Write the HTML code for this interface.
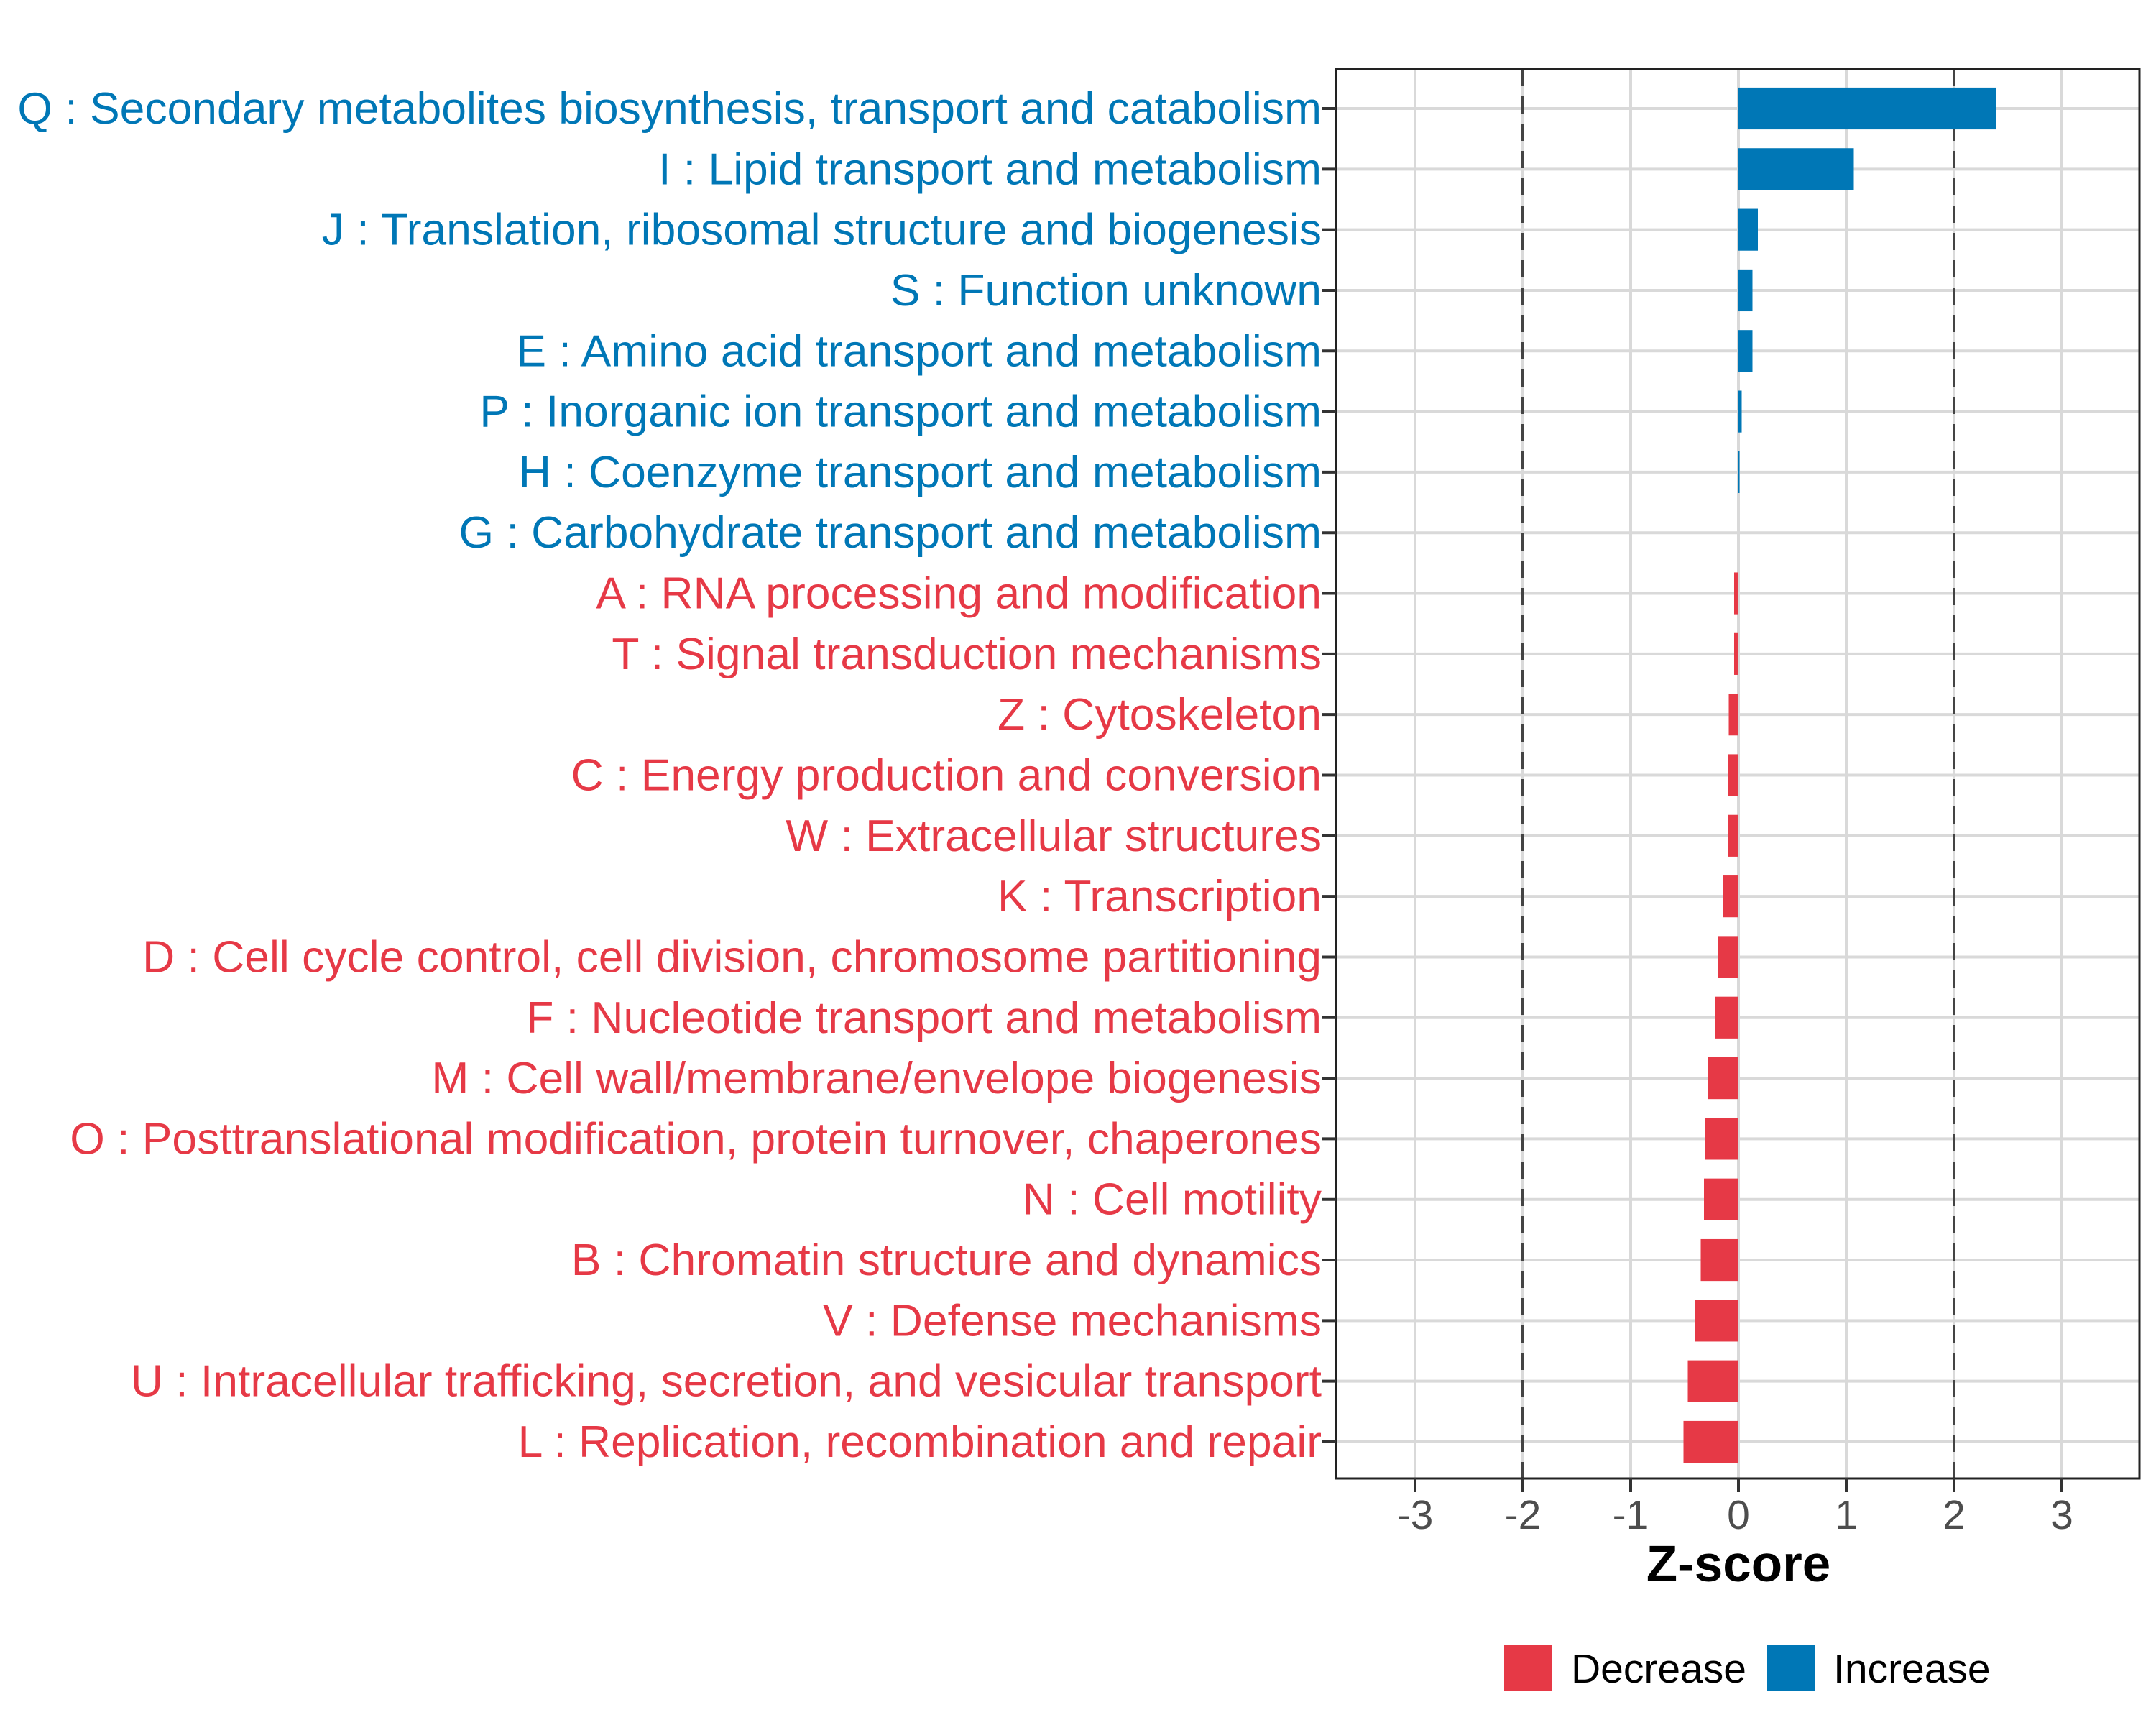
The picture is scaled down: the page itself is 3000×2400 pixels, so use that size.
<!DOCTYPE html>
<html><head><meta charset="utf-8"><style>
html,body{margin:0;padding:0;background:#fff;}
svg{display:block;font-family:"Liberation Sans",Arial,sans-serif;}
</style></head><body>
<svg id="chart" width="3000" height="2400" viewBox="0 0 3000 2400">
<g id="grid"></g>
<g id="bars"></g>
<rect x="1859" y="96" width="1118" height="1961" fill="none" stroke="#222" stroke-width="3"/>
<g id="ylabels"></g>
<g id="xaxis"></g>
<text x="2419" y="2200" text-anchor="middle" font-size="71" font-weight="bold" fill="#000">Z-score</text>
<g>
<rect x="2093" y="2288" width="66" height="64" fill="#e63946"/>
<text x="2186" y="2341" font-size="57" fill="#000">Decrease</text>
<rect x="2459" y="2288" width="66" height="64" fill="#0077b6"/>
<text x="2551" y="2341" font-size="57" fill="#000">Increase</text>
</g>
</svg>
<script>
const categories = ["Q : Secondary metabolites biosynthesis, transport and catabolism","I : Lipid transport and metabolism","J : Translation, ribosomal structure and biogenesis","S : Function unknown","E : Amino acid transport and metabolism","P : Inorganic ion transport and metabolism","H : Coenzyme transport and metabolism","G : Carbohydrate transport and metabolism","A : RNA processing and modification","T : Signal transduction mechanisms","Z : Cytoskeleton","C : Energy production and conversion","W : Extracellular structures","K : Transcription","D : Cell cycle control, cell division, chromosome partitioning","F : Nucleotide transport and metabolism","M : Cell wall/membrane/envelope biogenesis","O : Posttranslational modification, protein turnover, chaperones","N : Cell motility","B : Chromatin structure and dynamics","V : Defense mechanisms","U : Intracellular trafficking, secretion, and vesicular transport","L : Replication, recombination and repair"];
const zscores = [2.39,1.07,0.18,0.13,0.13,0.03,0.01,0.0,-0.04,-0.04,-0.09,-0.10,-0.10,-0.14,-0.19,-0.22,-0.28,-0.31,-0.32,-0.35,-0.40,-0.47,-0.51];
const groups = ["inc","inc","inc","inc","inc","inc","inc","inc","dec","dec","dec","dec","dec","dec","dec","dec","dec","dec","dec","dec","dec","dec","dec"];
const xTicks = [-3,-2,-1,0,1,2,3];
const xTickLabels = ["-3","-2","-1","0","1","2","3"];
const thresholds = [-2,2];

const NS="http://www.w3.org/2000/svg";
const PL=1859, PR=2977, PT=96, PB=2057;
const X0=2419, UNIT=150, Y0=151, STEP=(2006-151)/22;
const xs = v => X0 + v*UNIT;
const ys = i => Y0 + i*STEP;
const colors={inc:"#0077b6",dec:"#e63946"};
function mk(tag, attrs, parent){const e=document.createElementNS(NS,tag);for(const k in attrs)e.setAttribute(k,attrs[k]);parent.appendChild(e);return e;}
const grid=document.getElementById('grid'), bars=document.getElementById('bars'), yl=document.getElementById('ylabels'), xa=document.getElementById('xaxis');

xTicks.forEach((t,i)=>{
  const l=mk('line',{x1:xs(t),x2:xs(t),y1:PT,y2:PB,stroke:'#d9d9d9','stroke-width':4},grid);
  
  
  const tk=mk('line',{x1:xs(t),x2:xs(t),y1:PB,y2:PB+19,stroke:'#333','stroke-width':4},xa);
  
  
  const tx=mk('text',{x:xs(t),y:2127,'text-anchor':'middle','font-size':57,fill:'#4d4d4d'},xa);
  tx.textContent=xTickLabels[i];
  
  
});
categories.forEach((c,i)=>{
  const l=mk('line',{x1:PL,x2:PR,y1:ys(i),y2:ys(i),stroke:'#d9d9d9','stroke-width':4},grid);
  
  
});
thresholds.forEach(t=>{
  const l=mk('line',{x1:xs(t),x2:xs(t),y1:PT,y2:PB,stroke:'#444','stroke-width':4,'stroke-dasharray':'24 14'},grid);
  
  
});
const bh=STEP*0.69;
categories.forEach((c,i)=>{
  const v=zscores[i];
  const x=Math.min(xs(0),xs(v)), w=Math.abs(xs(v)-xs(0));
  const r=mk('rect',{x:x,y:ys(i)-bh/2,width:w,height:bh,fill:colors[groups[i]]},bars);
  
  
  const tk=mk('line',{x1:PL-19,x2:PL,y1:ys(i),y2:ys(i),stroke:'#333','stroke-width':4},yl);
  
  
});
const lg=mk('g',{},yl);
const texts=[];
categories.forEach((c,i)=>{
  const t=mk('text',{x:0,y:ys(i)+21,'text-anchor':'end','font-size':62,fill:colors[groups[i]]},lg);
  t.textContent=c;
  
  
  texts.push(t);
});
const w=texts[0].getComputedTextLength();
const target=1815;
const s= w>0 ? target/w : 1;
lg.setAttribute('transform','translate(1839,0) scale('+s+',1)');
</script>
</body></html>
